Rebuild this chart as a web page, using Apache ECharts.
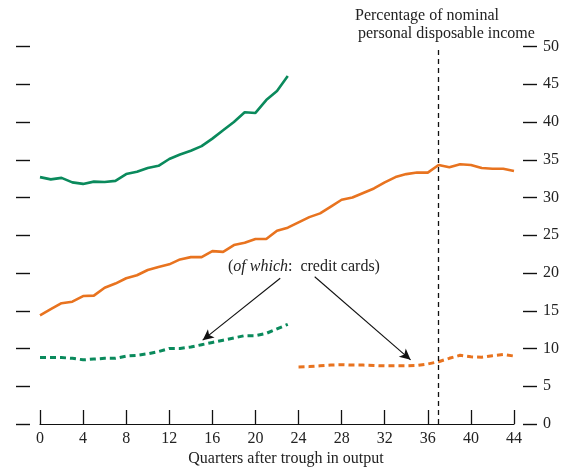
<!DOCTYPE html>
<html>
<head>
<meta charset="utf-8">
<script src="https://cdn.jsdelivr.net/npm/echarts@6/dist/echarts.min.js"></script>
<style>
  html, body { margin: 0; padding: 0; background: #fff; }
  #main { width: 566px; height: 470px; }
</style>
</head>
<body>
<div id="main"></div>
<script>
// quarters after trough
var quarters = [];
for (var q = 0; q <= 44; q++) quarters.push(q);

// green, earlier episode (quarters 0-23)
var greenTotal = [32.7, 32.4, 32.6, 32.0, 31.8, 32.1, 32.05, 32.2, 33.1, 33.4, 33.9, 34.2,
  35.1, 35.7, 36.2, 36.8, 37.8, 38.9, 40.0, 41.3, 41.2, 42.9, 44.1, 46.1];
var greenCards = [8.8, 8.8, 8.8, 8.7, 8.5, 8.6, 8.7, 8.7, 9.0, 9.1, 9.3, 9.6,
  10.0, 10.0, 10.2, 10.5, 10.8, 11.1, 11.4, 11.7, 11.7, 12.0, 12.6, 13.2];

// orange, later episode (quarters 0-44), credit cards from quarter 24
var orangeTotal = [14.4, 15.2, 16.0, 16.2, 16.95, 17.0, 18.05, 18.6, 19.3, 19.7, 20.4, 20.8,
  21.15, 21.8, 22.1, 22.1, 22.9, 22.8, 23.7, 24.0, 24.5, 24.5, 25.6, 26.0,
  26.7, 27.4, 27.9, 28.8, 29.7, 30.0, 30.6, 31.2, 32.0, 32.7, 33.1, 33.3,
  33.3, 34.3, 34.0, 34.4, 34.3, 33.9, 33.8, 33.8, 33.5];
var orangeCardsStart = 24;
var orangeCards = [7.55, 7.6, 7.7, 7.8, 7.85, 7.8, 7.8, 7.75, 7.7, 7.7, 7.7, 7.75,
  7.95, 8.25, 8.7, 9.1, 8.9, 8.85, 9.05, 9.2, 9.0];

var yTicks = [0, 5, 10, 15, 20, 25, 30, 35, 40, 45, 50];
var markerQuarter = 37;

var GREEN = '#0a8a5c';
var ORANGE = '#e8731f';
var FONT = 'Liberation Serif';
var FONT_CSS = '16px "Liberation Serif"';

function pairs (values, start) {
  var out = [];
  for (var i = 0; i < values.length; i++) {
    out.push([quarters[i + start], values[i]]);
  }
  return out;
}

var myChart = echarts.init(document.getElementById('main'));

var option = {
  animation: false,
  backgroundColor: '#fff',
  grid: { left: 40, right: 52, top: 46.5, bottom: 46 },
  xAxis: {
    type: 'value',
    min: 0,
    max: 44,
    interval: 4,
    splitLine: { show: false },
    axisLine: { show: true, onZero: false, lineStyle: { color: '#111', width: 1.2 } },
    axisTick: { show: true, inside: true, length: 14, lineStyle: { color: '#111', width: 1.3 } },
    axisLabel: { margin: 7, color: '#222', fontFamily: FONT, fontSize: 16 }
  },
  yAxis: [
    {
      type: 'value',
      position: 'left',
      offset: 10,
      min: yTicks[0],
      max: yTicks[yTicks.length - 1],
      interval: 5,
      splitLine: { show: false },
      axisLine: { show: false, onZero: false },
      axisTick: { show: true, length: 14, lineStyle: { color: '#111', width: 1.4 } },
      axisLabel: { show: false }
    },
    {
      type: 'value',
      position: 'right',
      offset: 9,
      min: yTicks[0],
      max: yTicks[yTicks.length - 1],
      interval: 5,
      splitLine: { show: false },
      axisLine: { show: false, onZero: false },
      axisTick: { show: true, length: 14, lineStyle: { color: '#111', width: 1.4 } },
      axisLabel: { margin: 20, color: '#222', fontFamily: FONT, fontSize: 16 }
    }
  ],
  series: [
    {
      name: 'green total',
      type: 'line',
      data: pairs(greenTotal, 0),
      showSymbol: false,
      lineStyle: { color: GREEN, width: 2.6 }
    },
    {
      name: 'orange total',
      type: 'line',
      data: pairs(orangeTotal, 0),
      showSymbol: false,
      lineStyle: { color: ORANGE, width: 2.6 },
      markLine: {
        silent: true,
        symbol: ['none', 'none'],
        label: { show: false },
        lineStyle: { color: '#111', type: [5, 4], width: 1.3 },
        data: [{ xAxis: markerQuarter }]
      }
    },
    {
      name: 'green cards',
      type: 'line',
      data: pairs(greenCards, 0),
      showSymbol: false,
      lineStyle: { color: GREEN, width: 3, type: [6, 4] },
      markLine: {
        silent: true,
        symbol: ['none', 'arrow'],
        symbolSize: [8, 11],
        label: { show: false },
        lineStyle: { color: '#111', type: 'solid', width: 1.1 },
        data: [
          [{ coord: [22.3, 19.3] }, { coord: [15.1, 11.1] }],
          [{ coord: [25.5, 19.5] }, { coord: [34.4, 8.5] }]
        ]
      }
    },
    {
      name: 'orange cards',
      type: 'line',
      data: pairs(orangeCards, orangeCardsStart),
      showSymbol: false,
      lineStyle: { color: ORANGE, width: 3, type: [6, 4] }
    }
  ],
  graphic: [
    {
      type: 'text', left: 355, top: 8,
      style: { text: 'Percentage of nominal', fill: '#222', font: FONT_CSS }
    },
    {
      type: 'text', left: 358, top: 26,
      style: { text: 'personal disposable income', fill: '#222', font: FONT_CSS }
    },
    {
      type: 'text', left: 228, top: 259,
      style: {
        text: '({i|of which}:  credit cards)',
        fill: '#222',
        font: FONT_CSS,
        rich: { i: { fontStyle: 'italic', fontFamily: FONT, fontSize: 16, fill: '#222' } }
      }
    },
    {
      type: 'text', x: 286, y: 459,
      style: {
        text: 'Quarters after trough in output', fill: '#222',
        font: FONT_CSS, align: 'center', verticalAlign: 'middle'
      }
    }
  ]
};

myChart.setOption(option);
</script>
</body>
</html>
